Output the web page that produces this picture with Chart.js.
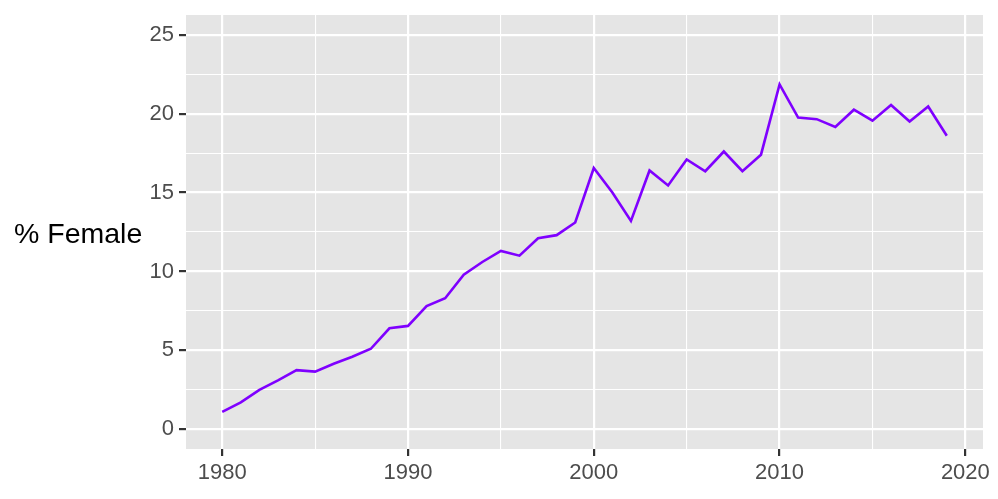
<!DOCTYPE html>
<html>
<head>
<meta charset="utf-8">
<script src="https://cdn.jsdelivr.net/npm/chart.js@4.4.0/dist/chart.umd.min.js"></script>
<style>
  html, body { margin: 0; padding: 0; background: #ffffff; }
  #wrap { position: relative; width: 998px; height: 499px; }
</style>
</head>
<body>
<div id="wrap"><canvas id="femaleChart" width="998" height="499"></canvas></div>
<script>
// years on the x axis
const years = [1980, 1981, 1982, 1983, 1984, 1985, 1986, 1987, 1988, 1989,
  1990, 1991, 1992, 1993, 1994, 1995, 1996, 1997, 1998, 1999,
  2000, 2001, 2002, 2003, 2004, 2005, 2006, 2007, 2008, 2009,
  2010, 2011, 2012, 2013, 2014, 2015, 2016, 2017, 2018, 2019];
// percent female
const pctFemale = [1.1, 1.7, 2.5, 3.1, 3.75, 3.65, 4.15, 4.6, 5.1, 6.4,
  6.55, 7.8, 8.3, 9.8, 10.6, 11.3, 11.0, 12.1, 12.3, 13.1,
  16.55, 15.0, 13.2, 16.4, 15.45, 17.1, 16.35, 17.6, 16.35, 17.4,
  21.85, 19.75, 19.65, 19.15, 20.25, 19.55, 20.55, 19.5, 20.45, 18.6];
const xTicks = [1980, 1985, 1990, 1995, 2000, 2005, 2010, 2015, 2020];
const yTicks = [0, 2.5, 5, 7.5, 10, 12.5, 15, 17.5, 20, 22.5, 25];
const yTitle = '% Female';

// grey panel behind the plot, and the horizontal axis title
const panelBg = {
  id: 'panelBg',
  beforeDraw(chart) {
    const { ctx, chartArea } = chart;
    ctx.save();
    ctx.fillStyle = '#e5e5e5';
    ctx.fillRect(chartArea.left, chartArea.top, chartArea.right - chartArea.left, chartArea.bottom - chartArea.top);
    ctx.restore();
  },
  afterDraw(chart) {
    const { ctx, chartArea } = chart;
    ctx.save();
    ctx.fillStyle = '#000000';
    ctx.font = '28.5px "Liberation Sans", Arial, sans-serif';
    ctx.textAlign = 'left';
    ctx.textBaseline = 'middle';
    ctx.fillText(yTitle, 14, (chartArea.top + chartArea.bottom) / 2 + 3);
    ctx.restore();
  }
};

const ctx = document.getElementById('femaleChart').getContext('2d');
new Chart(ctx, {
  type: 'line',
  data: {
    datasets: [{
      data: years.map((y, i) => ({ x: y, y: pctFemale[i] })),
      borderColor: '#7f00ff',
      borderWidth: 2.6,
      pointRadius: 0,
      tension: 0,
      fill: false
    }]
  },
  options: {
    responsive: false,
    animation: false,
    layout: { padding: { top: 15, right: 15, left: 0, bottom: 0 } },
    plugins: {
      legend: { display: false },
      tooltip: { enabled: false }
    },
    scales: {
      x: {
        type: 'linear',
        min: 1978.05,
        max: 2020.95,
        afterBuildTicks: scale => { scale.ticks = xTicks.map(v => ({ value: v })); },
        afterFit: scale => {
          scale.height = 50;
          scale.paddingLeft = 0;
          scale.paddingRight = 0;
        },
        border: { display: false },
        grid: {
          color: '#ffffff',
          lineWidth: c => (c.tick && c.tick.value % 10 === 0) ? 2.2 : 1.1,
          tickColor: c => (c.tick && c.tick.value % 10 === 0) ? '#333333' : 'rgba(0,0,0,0)',
          tickWidth: 2.2,
          tickLength: 7,
          drawTicks: true
        },
        ticks: {
          color: '#4d4d4d',
          font: { family: '"Liberation Sans", Arial, sans-serif', size: 22 },
          padding: 4,
          maxRotation: 0,
          autoSkip: false,
          callback: v => (v % 10 === 0 ? String(v) : '')
        }
      },
      y: {
        type: 'linear',
        min: -1.25,
        max: 26.25,
        afterBuildTicks: scale => { scale.ticks = yTicks.map(v => ({ value: v })); },
        afterFit: scale => {
          scale.width = 186;
          scale.paddingTop = 0;
          scale.paddingBottom = 0;
        },
        border: { display: false },
        grid: {
          color: '#ffffff',
          lineWidth: c => (c.tick && c.tick.value % 5 === 0) ? 2.2 : 1.1,
          tickColor: c => (c.tick && c.tick.value % 5 === 0) ? '#333333' : 'rgba(0,0,0,0)',
          tickWidth: 2.2,
          tickLength: 7,
          drawTicks: true
        },
        ticks: {
          color: '#4d4d4d',
          font: { family: '"Liberation Sans", Arial, sans-serif', size: 22 },
          padding: 5,
          autoSkip: false,
          callback: v => (v % 5 === 0 ? String(v) : '')
        }
      }
    }
  },
  plugins: [panelBg]
});
</script>
</body>
</html>
